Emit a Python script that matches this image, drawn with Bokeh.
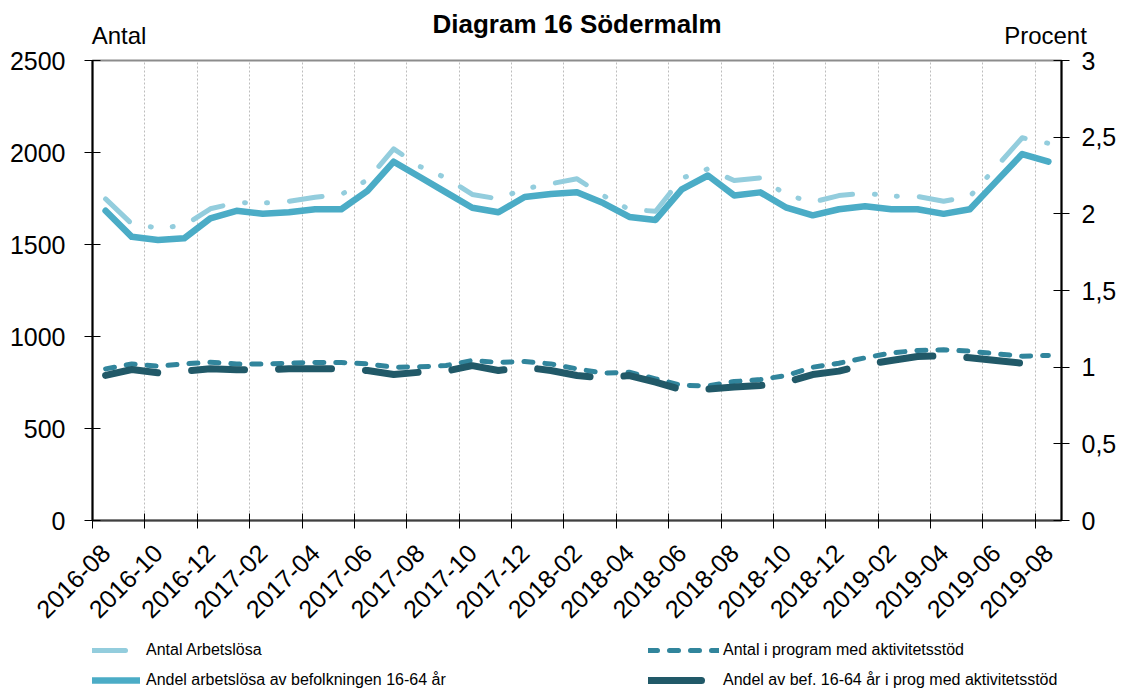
import math
from bokeh.plotting import figure
from bokeh.layouts import column
from bokeh.models import Range1d, LinearAxis, FixedTicker, Legend, LegendItem, Grid
from bokeh.embed import file_html
from bokeh.resources import INLINE

months = ["2016-08", "2016-09", "2016-10", "2016-11", "2016-12",
          "2017-01", "2017-02", "2017-03", "2017-04", "2017-05", "2017-06",
          "2017-07", "2017-08", "2017-09", "2017-10", "2017-11", "2017-12",
          "2018-01", "2018-02", "2018-03", "2018-04", "2018-05", "2018-06",
          "2018-07", "2018-08", "2018-09", "2018-10", "2018-11", "2018-12",
          "2019-01", "2019-02", "2019-03", "2019-04", "2019-05", "2019-06",
          "2019-07", "2019-08"]

antal_arbetslosa = [1748, 1612, 1590, 1603, 1694, 1728, 1725, 1735, 1757, 1772, 1851,
                    2020, 1924, 1862, 1772, 1748, 1803, 1830, 1857, 1766, 1690, 1681,
                    1860, 1911, 1848, 1862, 1770, 1730, 1766, 1779, 1763, 1761, 1735,
                    1761, 1920, 2080, 2050]

antal_program = [824, 851, 839, 851, 860, 851, 851, 855, 859, 859, 851, 833, 835, 842,
                 870, 859, 864, 851, 824, 801, 806, 770, 734, 732, 755, 766, 788, 833,
                 855, 884, 911, 924, 928, 920, 906, 893, 897]

andel_arbetslosa = [2.02, 1.85, 1.83, 1.84, 1.97, 2.02, 2.00, 2.01, 2.03, 2.03, 2.15,
                    2.34, 2.24, 2.14, 2.04, 2.01, 2.11, 2.13, 2.14, 2.07, 1.98, 1.96,
                    2.16, 2.25, 2.12, 2.14, 2.04, 1.99, 2.03, 2.05, 2.03, 2.03, 2.00,
                    2.03, 2.21, 2.39, 2.34]

andel_program = [0.946, 0.985, 0.963, 0.974, 0.989, 0.983, 0.983, 0.989, 0.989, 0.989,
                 0.978, 0.952, 0.967, 0.974, 1.01, 0.978, 1.0, 0.978, 0.946, 0.93,
                 0.945, 0.902, 0.852, 0.857, 0.870, 0.880, 0.902, 0.952, 0.974, 1.017,
                 1.043, 1.07, 1.074, 1.061, 1.043, 1.026, 1.02]

left_ticks = [0, 500, 1000, 1500, 2000, 2500]
right_ticks = [0, 0.5, 1, 1.5, 2, 2.5, 3]
right_labels = ["0", "0,5", "1", "1,5", "2", "2,5", "3"]

title_text = "Diagram 16 Södermalm"
left_title = "Antal"
right_title = "Procent"
names = ["Antal Arbetslösa", "Antal i program med aktivitetsstöd",
         "Andel arbetslösa av befolkningen 16-64 år",
         "Andel av bef. 16-64 år i prog med aktivitetsstöd"]

FONT = "Liberation Sans"
W = 1119
n = len(months)
x = list(range(n))

STYLES = {
    "light": dict(line_color="#93cddd", line_width=5, line_dash="33 22 1 21 1 22",
                  line_cap="round", line_join="round"),
    "teal": dict(line_color="#31859c", line_width=5, line_dash="9 12",
                 line_cap="round", line_join="round"),
    "solid": dict(line_color="#4bacc6", line_width=6.5,
                  line_cap="round", line_join="round"),
    "dark": dict(line_color="#215968", line_width=7, line_dash="53 34",
                 line_cap="round", line_join="round"),
}

# ---------- main chart ----------
p = figure(width=W, height=630, output_backend="svg", toolbar_location=None,
           x_range=Range1d(-0.5, n - 0.5), y_range=Range1d(0, 2500),
           x_axis_type=None, y_axis_type=None,
           min_border_left=92, min_border_right=55, min_border_top=60,
           min_border_bottom=110)
p.extra_y_ranges = {"pct": Range1d(0, 3)}
p.background_fill_color = "white"
p.border_fill_color = "white"
p.outline_line_color = "#8c8c8c"
p.outline_line_width = 2

label_idx = list(range(0, n, 2))
xaxis = LinearAxis(ticker=FixedTicker(ticks=label_idx,
                                      minor_ticks=[i - 0.5 for i in label_idx]))
xaxis.major_label_overrides = {i: months[i] for i in label_idx}
xaxis.major_label_orientation = math.pi / 4
xaxis.major_tick_out = 0
xaxis.major_tick_in = 0
xaxis.minor_tick_in = 7
xaxis.minor_tick_out = 8
xaxis.minor_tick_line_color = "black"
xaxis.axis_line_color = "#404040"
xaxis.axis_line_width = 2
xaxis.major_label_standoff = 20
xaxis.major_label_text_font = FONT
xaxis.major_label_text_font_size = "25px"
xaxis.major_label_text_color = "black"
p.add_layout(xaxis, "below")

yaxis = LinearAxis(ticker=FixedTicker(ticks=left_ticks))
yaxis.axis_line_color = "black"
yaxis.axis_line_width = 2
yaxis.major_tick_in = 8
yaxis.major_tick_out = 8
yaxis.major_tick_line_color = "black"
yaxis.minor_tick_line_color = None
yaxis.major_label_standoff = 19
yaxis.major_label_text_font = FONT
yaxis.major_label_text_font_size = "25px"
yaxis.major_label_text_color = "black"
p.add_layout(yaxis, "left")

yaxis2 = LinearAxis(y_range_name="pct", ticker=FixedTicker(ticks=right_ticks))
yaxis2.major_label_overrides = dict(zip(right_ticks, right_labels))
yaxis2.axis_line_color = "black"
yaxis2.axis_line_width = 2
yaxis2.major_tick_in = 8
yaxis2.major_tick_out = 8
yaxis2.major_tick_line_color = "black"
yaxis2.minor_tick_line_color = None
yaxis2.major_label_standoff = 12
yaxis2.major_label_text_font = FONT
yaxis2.major_label_text_font_size = "25px"
yaxis2.major_label_text_color = "black"
p.add_layout(yaxis2, "right")

# top "axis" carrying the unit captions and the chart title
top_axis = LinearAxis(ticker=FixedTicker(ticks=[0.516, 35.89]))
top_axis.major_label_overrides = {0.516: left_title, 35.89: right_title}
top_axis.axis_line_color = None
top_axis.major_tick_line_color = None
top_axis.minor_tick_line_color = None
top_axis.major_tick_out = 0
top_axis.major_tick_in = 0
top_axis.major_label_standoff = 12
top_axis.major_label_text_font = FONT
top_axis.major_label_text_font_size = "24px"
top_axis.major_label_text_color = "black"
top_axis.axis_label = title_text
top_axis.axis_label_text_font = FONT
top_axis.axis_label_text_font_style = "bold"
top_axis.axis_label_text_font_size = "26px"
top_axis.axis_label_text_color = "black"
top_axis.axis_label_standoff = -20
p.add_layout(top_axis, "above")

grid = Grid(dimension=0, ticker=FixedTicker(ticks=[i - 0.5 for i in range(2, n, 2)]),
            grid_line_color="#bdbdbd", grid_line_dash="2 2", grid_line_width=1)
p.add_layout(grid)

p.line(x, andel_arbetslosa, y_range_name="pct", **STYLES["solid"])
p.line(x, antal_arbetslosa, **STYLES["light"])
p.line(x, antal_program, **STYLES["teal"])
p.line(x, andel_program, y_range_name="pct", **STYLES["dark"])

# ---------- legend strip (same series, drawn outside its view; only keys show) ----------
q = figure(width=W, height=58, output_backend="svg", toolbar_location=None,
           x_axis_type=None, y_axis_type=None, min_border=0,
           x_range=Range1d(0, 1), y_range=Range1d(-2, -1))
q.outline_line_color = None
q.background_fill_color = "white"
q.border_fill_color = "white"
k_light = q.line(x, antal_arbetslosa, **STYLES["light"])
k_teal = q.line(x, antal_program, **STYLES["teal"])
k_solid = q.line(x, andel_arbetslosa, **STYLES["solid"])
k_dark = q.line(x, andel_program, **STYLES["dark"])


def make_legend(items, loc, glyph_w, standoff):
    return Legend(items=items, location=loc, orientation="vertical",
                  glyph_width=glyph_w, glyph_height=20, label_height=20,
                  label_standoff=standoff, spacing=10, padding=0, margin=0,
                  border_line_alpha=0, background_fill_alpha=0,
                  label_text_font=FONT, label_text_font_size="16px",
                  label_text_color="black")


q.add_layout(make_legend([LegendItem(label=names[0], renderers=[k_light]),
                          LegendItem(label=names[2], renderers=[k_solid])],
                         (0, -2), 48, 6))
q.add_layout(make_legend([LegendItem(label=names[1], renderers=[k_teal]),
                          LegendItem(label=names[3], renderers=[k_dark])],
                         (556, -2), 71, 4))

layout = column(p, q, spacing=0)
open("out.html", "w").write(file_html(layout, INLINE))
